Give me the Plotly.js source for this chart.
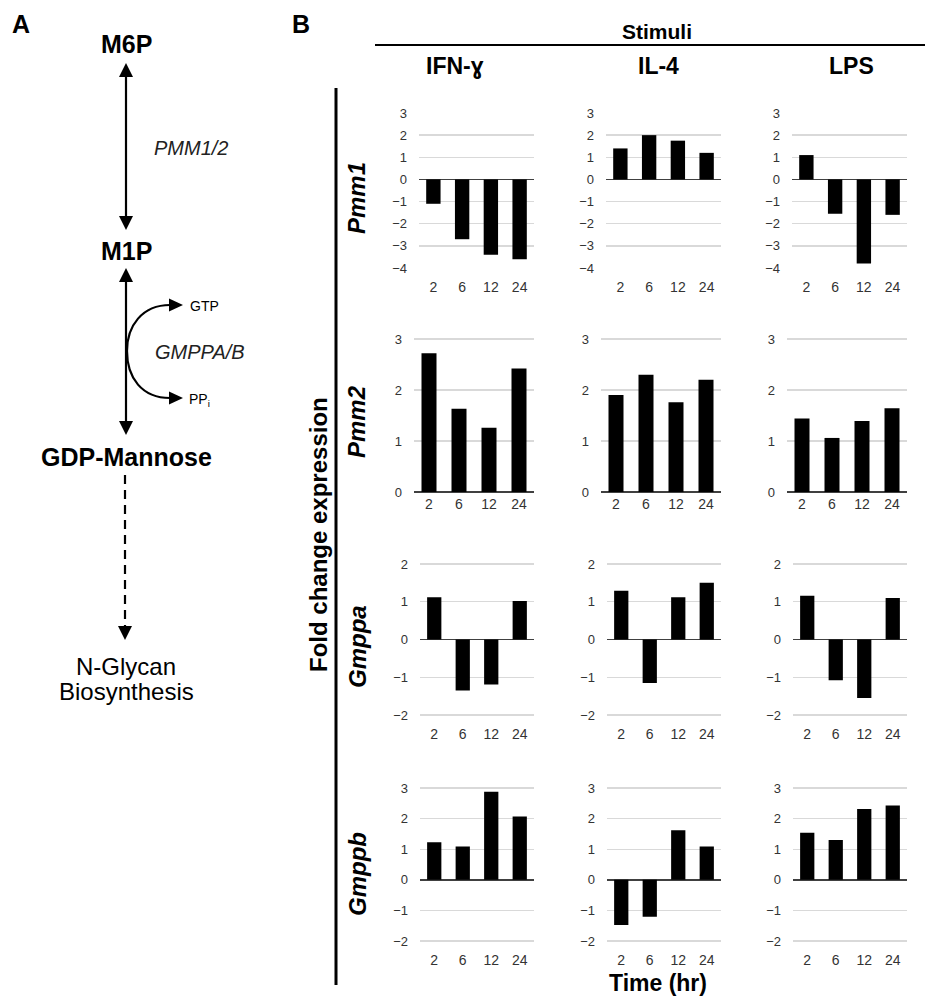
<!DOCTYPE html>
<html><head><meta charset="utf-8">
<script src="https://cdn.plot.ly/plotly-3.0.1.min.js"></script>
<style>body{margin:0;background:#fff}#chart{width:925px;height:1000px}</style>
</head><body><div id="chart"></div>
<script>
// ---------- DATA ----------
const times = ["2", "6", "12", "24"];
const stimuli = ["IFN-ɣ", "IL-4", "LPS"];
const genes = ["Pmm1", "Pmm2", "Gmppa", "Gmppb"];

const pmm1_ifn = [-1.1, -2.7, -3.4, -3.6];
const pmm1_il4 = [1.4, 2.0, 1.75, 1.2];
const pmm1_lps = [1.1, -1.55, -3.8, -1.6];

const pmm2_ifn = [2.72, 1.63, 1.26, 2.42];
const pmm2_il4 = [1.9, 2.3, 1.76, 2.2];
const pmm2_lps = [1.44, 1.06, 1.39, 1.64];

const gmppa_ifn = [1.12, -1.35, -1.19, 1.02];
const gmppa_il4 = [1.29, -1.15, 1.12, 1.5];
const gmppa_lps = [1.16, -1.08, -1.55, 1.1];

const gmppb_ifn = [1.23, 1.09, 2.88, 2.07];
const gmppb_il4 = [-1.48, -1.21, 1.62, 1.09];
const gmppb_lps = [1.54, 1.3, 2.31, 2.43];

const yRanges = [[-4, 3], [0, 3], [-2, 2], [-2, 3]];

const series = [
  [pmm1_ifn, pmm1_il4, pmm1_lps],
  [pmm2_ifn, pmm2_il4, pmm2_lps],
  [gmppa_ifn, gmppa_il4, gmppa_lps],
  [gmppb_ifn, gmppb_il4, gmppb_lps]
];

// ---------- LAYOUT GEOMETRY ----------
const W = 925, H = 1000;
const fx = p => p / W;
const fy = p => 1 - p / H;
const FONT = "Liberation Sans, Arial, Helvetica, sans-serif";

const rowPx = [[113, 268], [339, 492], [564, 715], [788, 941]]; // px of top tick, bottom tick
const colRight = [534, 721, 907];
const rowWidth = [115, 120, 114, 114];
const xStandoff = [8, 0, 7, 8];
const PAD = 0.04;

const traces = [];
const layout = {
  width: W, height: H,
  margin: {l: 0, r: 0, t: 0, b: 0},
  paper_bgcolor: "#fff", plot_bgcolor: "rgba(0,0,0,0)",
  showlegend: false,
  bargap: 0.5,
  font: {family: FONT, color: "#000"},
  annotations: [],
  shapes: []
};

for (let r = 0; r < 4; r++) {
  for (let c = 0; c < 3; c++) {
    const k = r * 3 + c + 1;
    const sfx = k === 1 ? "" : String(k);
    const [lo, hi] = yRanges[r];
    const [tp, bp] = rowPx[r];
    const unit = (bp - tp) / (hi - lo);
    traces.push({
      type: "bar", x: times, y: series[r][c],
      xaxis: "x" + sfx, yaxis: "y" + sfx,
      marker: {color: "#000", line: {width: 0}},
      hoverinfo: "x+y"
    });
    layout["xaxis" + sfx] = {
      domain: [fx(colRight[c] - rowWidth[r]), fx(colRight[c])],
      anchor: "y" + sfx, type: "category",
      showgrid: false, zeroline: false, showline: false, ticks: "",
      tickfont: {size: 14, color: "#333", family: FONT},
      ticklabelstandoff: xStandoff[r], fixedrange: true
    };
    layout["yaxis" + sfx] = {
      domain: [fy(bp + PAD * unit), fy(tp - PAD * unit)],
      anchor: "x" + sfx, range: [lo - PAD, hi + PAD],
      tick0: 0, dtick: 1,
      showgrid: true, gridcolor: "#d9d9d9", gridwidth: 1.3,
      zeroline: true, zerolinecolor: "#404040", zerolinewidth: 1.8,
      showline: false, ticks: "",
      tickfont: {size: 13, color: "#333", family: FONT},
      ticklabelstandoff: 11, fixedrange: true
    };
  }
}

function txt(text, x, y, size, opts) {
  layout.annotations.push(Object.assign({
    text: text, x: fx(x), y: fy(y), xref: "paper", yref: "paper",
    showarrow: false, xanchor: "center", yanchor: "middle",
    font: {size: size, color: "#000", family: FONT}
  }, opts || {}));
}
function line(x0, y0, x1, y1, w, dash) {
  layout.shapes.push({type: "line", xref: "paper", yref: "paper",
    x0: fx(x0), y0: fy(y0), x1: fx(x1), y1: fy(y1),
    line: {color: "#000", width: w, dash: dash || "solid"}});
}
function tri(pts) {
  const d = "M " + pts.map(p => fx(p[0]) + "," + fy(p[1])).join(" L ") + " Z";
  layout.shapes.push({type: "path", xref: "paper", yref: "paper", path: d,
    fillcolor: "#000", line: {width: 0}});
}
function headUp(x, y) { tri([[x, y], [x - 7, y + 14], [x + 7, y + 14]]); }
function headDown(x, y) { tri([[x, y], [x - 7, y - 14], [x + 7, y - 14]]); }
function headRight(x, y) { tri([[x, y], [x - 14, y - 6.5], [x - 14, y + 6.5]]); }

// ---------- PANEL B headers ----------
txt("<b>A</b>", 21, 24, 25);
txt("<b>B</b>", 301, 24, 25);
txt("<b>Stimuli</b>", 657, 31, 21);
line(375, 45, 925, 45, 2.2);
const colHeadX = [455, 658, 851];
stimuli.forEach((s, i) => txt("<b>" + s + "</b>", colHeadX[i], 66, 23));
line(336, 88, 336, 985, 3);
txt("<b>Fold change expression</b>", 318, 535, 24, {textangle: -90});
const geneY = [198, 422, 647, 874];
genes.forEach((g, i) => txt("<b><i>" + g + "</i></b>", 357, geneY[i], 24, {textangle: -90}));
txt("<b>Time (hr)</b>", 658, 983, 23);

// ---------- PANEL A pathway ----------
txt("<b>M6P</b>", 126, 44, 25);
line(126, 74, 126, 218, 2.2);
headUp(126, 63); headDown(126, 230);
txt("<i>PMM1/2</i>", 191, 148, 20, {font: {size: 20, color: "#222", family: FONT}});
txt("<b>M1P</b>", 126, 251, 25);
line(126, 280, 126, 423, 2.2);
headUp(126, 268); headDown(126, 435);
layout.shapes.push({type: "path", xref: "paper", yref: "paper",
  path: "M " + fx(170) + "," + fy(305) + " C " + fx(142) + "," + fy(305) + " " + fx(127) + "," + fy(326) + " " + fx(127) + "," + fy(351) +
        " C " + fx(127) + "," + fy(378) + " " + fx(142) + "," + fy(398) + " " + fx(170) + "," + fy(398),
  line: {color: "#000", width: 2.2}});
headRight(183, 305); headRight(183, 398);
txt("GTP", 204, 306, 14);
txt("<i>GMPPA/B</i>", 200, 352, 20, {font: {size: 20, color: "#222", family: FONT}});
txt("PP<sub>i</sub>", 199, 400, 14);
txt("<b>GDP-Mannose</b>", 126, 457, 25);
line(125, 475, 125, 627, 2.2, "9px,6px");
headDown(125, 640);
txt("N-Glycan", 126, 666, 24);
txt("Biosynthesis", 126, 691, 24);

Plotly.newPlot("chart", traces, layout, {displayModeBar: false, staticPlot: true});
</script>
</body></html>
